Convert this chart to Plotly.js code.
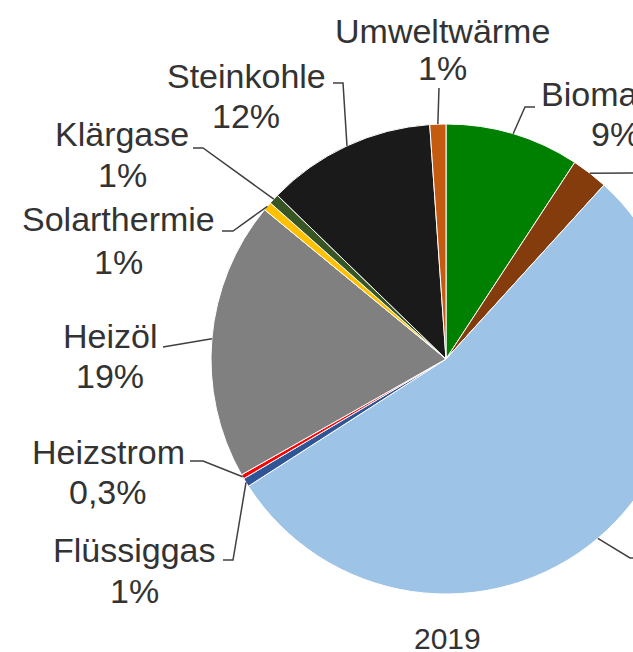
<!DOCTYPE html>
<html>
<head>
<meta charset="utf-8">
<script src="https://cdn.plot.ly/plotly-3.0.1.min.js"></script>
<style>
html, body { margin:0; padding:0; width:633px; height:652px; overflow:hidden; background:#fff; }
#chart { width:760px; height:652px; }
</style>
</head>
<body>
<div id="chart"></div>
<script>
// ---- data ----
const labels = ['Biomasse','Braunkohle','Erdgas','Flüssiggas','Heizstrom','Heizöl','Solarthermie','Klärgase','Steinkohle','Umweltwärme'];
const values = [9.2, 2.5, 54.0, 0.6, 0.3, 19.1, 0.6, 0.7, 11.6, 1.1];
const pctText = ['9%','3%','54%','1%','0,3%','19%','1%','1%','12%','1%'];
const colors = ['#008000','#843C0C','#9DC3E6','#2F5597','#FF0000','#808080','#FFC000','#375623','#1A1A1A','#C55A11'];
const yearLabel = '2019';

// ---- layout geometry (pixels) ----
const W = 760, H = 652;
const CX = 446, CY = 359, R = 235;
// label: [x centre, name line y, percent line y]
const labelPos = [
  [615,94,134], [780,160,200], [760,575,615], [134,550,591], [108,452,492],
  [110,336,376], [119,219,262], [122,134,175], [246,76,116], [442,31,68]
];
const leaderAnchor = [
  [[535,107],[525,107]],
  [[760,173]],
  [[760,558],[630,558]],
  [[223,560],[233,560]],
  [[190,461],[203,461]],
  [[163,347]],
  [[222,231],[233,231]],
  [[193,148],[203,148]],
  [[333,83],[343,83]],
  [[439,88]]
];

const px = x => x / W;
const py = y => 1 - y / H;

// slice mid-angle edge points computed from data
const total = values.reduce((a,b)=>a+b,0);
let cum = 0;
const edgePts = values.map(v => {
  const mid = (cum + v/2) / total * 2 * Math.PI;
  cum += v;
  return [CX + R*Math.sin(mid), CY - R*Math.cos(mid)];
});

const font = {family:'Liberation Sans, Arial, sans-serif', size:34, color:'#333333'};
const OFF = 0; // box-centre vs cap-centre offset

const annotations = [];
labels.forEach((l,i) => {
  annotations.push({
    xref:'paper', yref:'paper',
    x: px(labelPos[i][0]), y: py(labelPos[i][1] + OFF),
    xanchor:'center', yanchor:'middle',
    text: l, showarrow:false, font: font
  });
  annotations.push({
    xref:'paper', yref:'paper',
    x: px(labelPos[i][0]), y: py(labelPos[i][2] + OFF),
    xanchor:'center', yanchor:'middle',
    text: pctText[i], showarrow:false, font: font
  });
});
annotations.push({
  xref:'paper', yref:'paper', x: px(448), y: py(638),
  xanchor:'center', yanchor:'middle', text: yearLabel, showarrow:false,
  font:{family:font.family, size:30, color:'#333333'}
});

const shapes = labels.map((l,i) => {
  const pts = leaderAnchor[i].concat([edgePts[i]]);
  const path = pts.map((p,k) => (k===0?'M':'L') + px(p[0]).toFixed(5) + ',' + py(p[1]).toFixed(5)).join(' ');
  return {type:'path', xref:'paper', yref:'paper', path: path,
          line:{color:'#404040', width:1.5}};
});

const trace = {
  type:'pie',
  labels: labels,
  values: values,
  sort:false,
  direction:'clockwise',
  rotation:0,
  marker:{colors: colors, line:{color:'#ffffff', width:1}},
  textinfo:'none',
  textposition:'none',
  hoverinfo:'skip',
  showlegend:false,
  domain:{x:[px(CX-R), px(CX+R)], y:[py(CY+R), py(CY-R)]}
};

const layout = {
  width: W, height: H,
  margin:{l:0,r:0,t:0,b:0},
  paper_bgcolor:'#ffffff',
  showlegend:false,
  annotations: annotations,
  shapes: shapes
};

Plotly.newPlot('chart', [trace], layout, {staticPlot:true, displayModeBar:false});
</script>
</body>
</html>
